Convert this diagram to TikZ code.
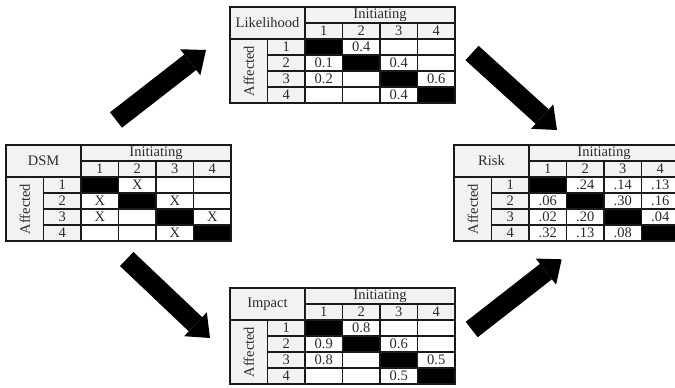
\documentclass[tikz,border=0pt]{standalone}
\usepackage{fontspec}
\setmainfont{Liberation Serif}
\usetikzlibrary{arrows.meta}

\definecolor{hdrgray}{HTML}{F2F2F2}
\definecolor{gridline}{HTML}{1A1A1A}
\definecolor{ink}{HTML}{2B2B2B}

\tikzset{
  cell/.style={draw=gridline, line width=1.5pt, inner sep=0pt, outer sep=0pt,
    text=ink, font=\fontsize{14.5}{14.5}\selectfont, anchor=center},
  hdr/.style={cell, fill=hdrgray},
  blockarrow/.style={line width=19.5pt, draw=black,
    -{Triangle[width=33pt,length=20pt,line width=0pt]}},
}

% one data row of a matrix: #1 name, #2 row index, #3 entries
\newcommand\gridrow[3]{%
  \foreach \v [count=\j] in {#3} {%
    \ifnum\j=#2\relax\def\cellfill{black}\else\def\cellfill{white}\fi
    \node[cell, fill=\cellfill, minimum width=37.5pt, minimum height=16pt]
      (#1-#2-\j) at ({56.25+37.5*\j},{24+16*#2}) {\v};
  }%
}

% a 4x4 matrix with headers: #1 name, #2 x, #3 y, #4 label, #5-#8 rows
\newcommand\grid[8]{%
  \begin{scope}[shift={(#2,#3)}]
    \node[hdr, minimum width=75pt, minimum height=32pt] (#1-label) at (37.5,16) {#4};
    \node[hdr, minimum width=150pt, minimum height=16pt] (#1-init) at (150,8) {Initiating};
    \foreach \j in {1,...,4}
      \node[hdr, minimum width=37.5pt, minimum height=16pt] (#1-c\j) at ({56.25+37.5*\j},24) {\j};
    \node[hdr, rotate=90, minimum width=64pt, minimum height=37.5pt] (#1-aff) at (18.75,64) {Affected};
    \foreach \i in {1,...,4}
      \node[hdr, minimum width=37.5pt, minimum height=16pt] (#1-r\i) at (56.25,{24+16*\i}) {\i};
    \gridrow{#1}{1}{#5}
    \gridrow{#1}{2}{#6}
    \gridrow{#1}{3}{#7}
    \gridrow{#1}{4}{#8}
  \end{scope}%
}

\begin{document}
\begin{tikzpicture}[x=1pt, y=-1pt]
  \useasboundingbox[fill=white] (0,0) rectangle (675,388);

  \grid{dsm}{6}{145}{DSM}{{},X,{},{}}{X,{},X,{}}{X,{},{},X}{{},{},X,{}}
  \grid{lik}{230}{7}{Likelihood}{{},0.4,{},{}}{0.1,{},0.4,{}}{0.2,{},{},0.6}{{},{},0.4,{}}
  \grid{imp}{230}{288}{Impact}{{},0.8,{},{}}{0.9,{},0.6,{}}{0.8,{},{},0.5}{{},{},0.5,{}}
  \grid{risk}{454}{145}{Risk}{{},.24,.14,.13}{.06,{},.30,.16}{.02,.20,{},.04}{.32,.13,.08,{}}

  % flow arrows between the matrices
  \coordinate (a1s) at (116,120);   \coordinate (a1e) at (206,50);
  \coordinate (a2s) at (472,53);    \coordinate (a2e) at (557,130);
  \coordinate (a3s) at (126.7,259); \coordinate (a3e) at (210,338);
  \coordinate (a4s) at (471.7,329.5); \coordinate (a4e) at (561.7,259.3);
  \draw[blockarrow] (a1s) -- (a1e);
  \draw[blockarrow] (a2s) -- (a2e);
  \draw[blockarrow] (a3s) -- (a3e);
  \draw[blockarrow] (a4s) -- (a4e);
\end{tikzpicture}
\end{document}
